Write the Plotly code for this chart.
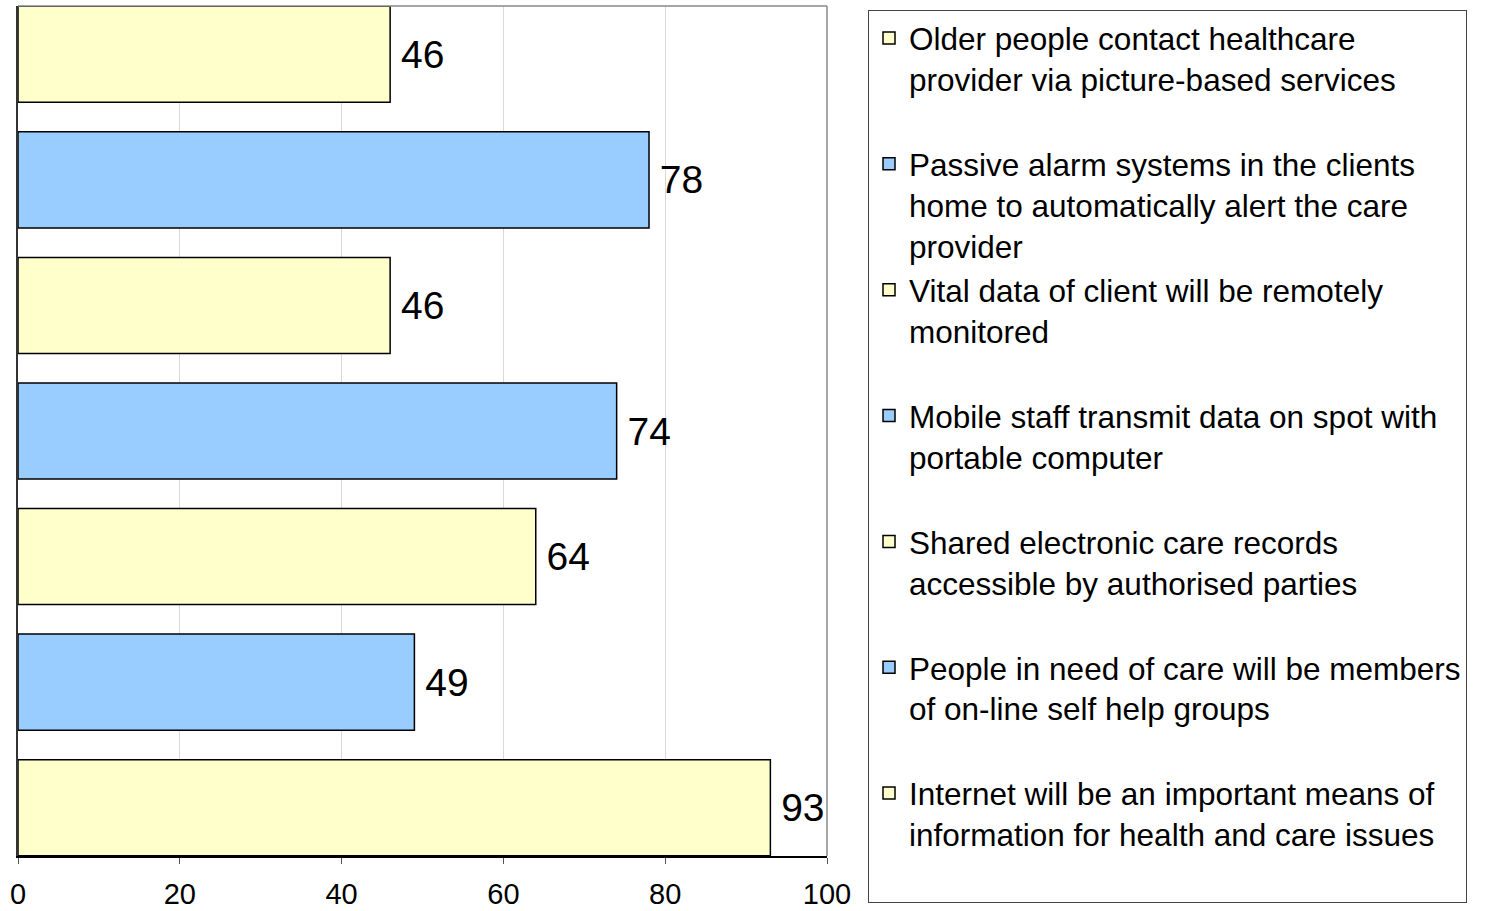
import plotly.graph_objects as go

categories = [
    "Older people contact healthcare<br>provider via picture-based services",
    "Passive alarm systems in the clients<br>home to automatically alert the care<br>provider",
    "Vital data of client will be remotely<br>monitored",
    "Mobile staff transmit data on spot with<br>portable computer",
    "Shared electronic care records<br>accessible by authorised parties",
    "People in need of care will be members<br>of on-line self help groups",
    "Internet will be an important means of<br>information for health and care issues",
]
values = [46, 78, 46, 74, 64, 49, 93]
colors = ["#FFFFCC", "#99CCFF", "#FFFFCC", "#99CCFF", "#FFFFCC", "#99CCFF", "#FFFFCC"]
x_ticks = [0, 20, 40, 60, 80, 100]

FONT = "Liberation Sans, Arial, sans-serif"

fig = go.Figure()
for i, (cat, val, col) in enumerate(zip(categories, values, colors)):
    nlines = cat.count("<br>") + 1
    name = cat + "<br> " * (3 - nlines)
    fig.add_trace(go.Bar(
        y=[cat], x=[val], orientation="h", name=name,
        legendgroup=f"g{i}",
        width=0.765,
        marker=dict(color=col, line=dict(color="#000000", width=1.5)),
        text=["\u2009" + str(val)], textposition="outside", cliponaxis=False,
        textfont=dict(size=39, color="#000000", family=FONT),
        hoverinfo="x+name",
    ))

fig.update_layout(
    width=1509, height=911,
    margin=dict(l=18, r=682, t=6, b=55, autoexpand=False),
    paper_bgcolor="#FFFFFF", plot_bgcolor="#FFFFFF",
    font=dict(family=FONT, size=29, color="#000000"),
    barmode="overlay",
    showlegend=True,
    legend=dict(
        x=(868 - 18) / 809, xanchor="left",
        y=1 + (6 - 10) / 850, yanchor="top",
        bordercolor="#444444", borderwidth=1,
        font=dict(size=31.5, family=FONT, color="#000000"),
        valign="top", traceorder="grouped", tracegroupgap=0,
        maxheight=1200,
    ),
    xaxis=dict(
        range=[0, 100], tickvals=x_ticks, ticktext=[str(t) for t in x_ticks],
        showgrid=True, gridcolor="#D9D9D9", gridwidth=1,
        showline=True, linecolor="#000000", linewidth=1.5,
        ticks="outside", ticklen=6, tickcolor="#555555",
        ticklabelstandoff=5,
        zeroline=False, tickfont=dict(size=29, family=FONT),
    ),
    yaxis=dict(
        type="category", categoryorder="array", categoryarray=categories,
        range=[6.385, -0.385], showticklabels=False, showgrid=False,
        showline=True, linecolor="#333333", linewidth=1.5, ticks="",
        zeroline=False,
    ),
    shapes=[
        dict(type="line", xref="x domain", yref="y domain", x0=0, x1=1, y0=1, y1=1,
             line=dict(color="#888888", width=1.5)),
        dict(type="line", xref="x domain", yref="y domain", x0=1, x1=1, y0=0, y1=1,
             line=dict(color="#888888", width=1.5)),
    ],
)

fig.write_html("out.html", config={"displayModeBar": False},
               post_script="document.body.style.margin='0';")
